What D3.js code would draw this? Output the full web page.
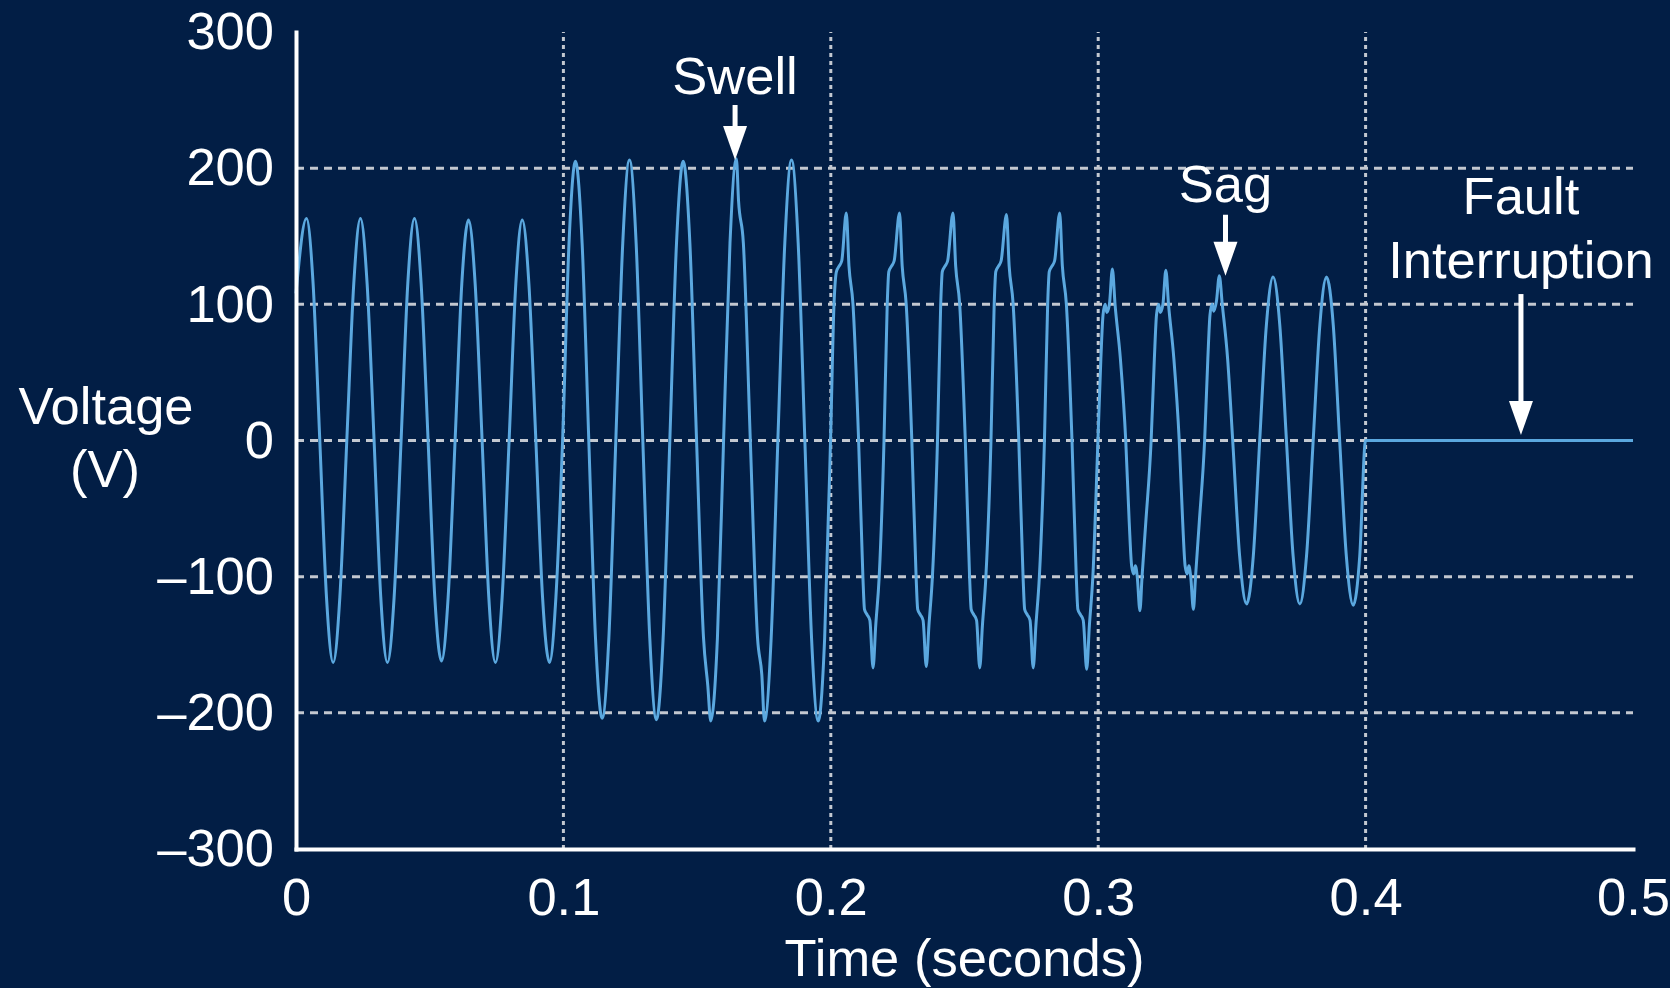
<!DOCTYPE html>
<html>
<head>
<meta charset="utf-8">
<script src="https://cdn.jsdelivr.net/npm/d3@7"></script>
<style>
  html, body { margin: 0; padding: 0; background: #021e45; }
  svg { display: block; }
</style>
</head>
<body>
<svg id="chart" width="1670" height="988"></svg>
<script>
// Recorded waveform, [time (s), voltage (V)] pairs for each disturbance interval
const normalWave = [
  [0.0000,108],[0.0039,163],[0.0064,115],[0.0089,0],[0.0114,-115],[0.0139,-163],[0.0164,-115],
  [0.0190,0],[0.0216,115],[0.0241,163],[0.0266,115],[0.0292,0],[0.0317,-115],[0.0342,-163],[0.0367,-115],
  [0.0393,0],[0.0418,115],[0.0443,163],[0.0468,115],[0.0494,0],[0.0519,-115],[0.0544,-162],[0.0569,-115],
  [0.0595,0],[0.0620,115],[0.0645,162],[0.0670,115],[0.0696,0],[0.0721,-115],[0.0746,-163],[0.0771,-115],
  [0.0797,0],[0.0822,115],[0.0846,162],[0.0871,115],[0.0897,0],[0.0922,-115],[0.0948,-163],[0.0972,-115]
];

const swellWave = [
  [0.0997,0],[0.1021,145],[0.1045,205],[0.1070,145],[0.1095,0],[0.1120,-145],[0.1145,-204],[0.1170,-145],
  [0.1196,0],[0.1222,145],[0.1247,206],[0.1272,145],[0.1297,0],[0.1323,-145],[0.1348,-205],[0.1373,-145],
  [0.1398,0],[0.1423,145],[0.1448,205],[0.1473,145],[0.1498,0],[0.1524,-145],[0.1540,-180],[0.1551,-206],[0.1576,-145],
  [0.1599,0],[0.1623,145],[0.1647,207],[0.1655,176],[0.1673,145],[0.1699,0],[0.1726,-145],[0.1742,-172],[0.1752,-206],[0.1777,-145],
  [0.1802,0],[0.1828,145],[0.1853,206],[0.1878,145],[0.1903,0],[0.1928,-145],[0.1953,-206],[0.1977,-145]
];

const harmonicWave = [
  [0.1999,0],[0.2012,100],[0.2021,124],[0.2031,128],[0.2041,132],[0.2058,167],
  [0.2068,128],[0.2083,100],[0.2104,0],[0.2120,-100],[0.2126,-124],[0.2136,-128],[0.2146,-132],[0.2158,-167],[0.2168,-136],[0.2181,-100],
  [0.2199,0],[0.2211,100],[0.2217,124],[0.2227,128],[0.2237,132],[0.2257,167],
  [0.2267,128],[0.2282,100],[0.2303,0],[0.2319,-100],[0.2325,-124],[0.2335,-128],[0.2345,-132],[0.2357,-166],[0.2367,-136],[0.2380,-100],
  [0.2399,0],[0.2411,100],[0.2417,124],[0.2427,128],[0.2437,132],[0.2457,167],
  [0.2467,128],[0.2482,100],[0.2503,0],[0.2519,-100],[0.2525,-124],[0.2535,-128],[0.2545,-132],[0.2557,-167],[0.2567,-136],[0.2580,-100],
  [0.2599,0],[0.2611,100],[0.2617,124],[0.2627,128],[0.2637,132],[0.2657,166],
  [0.2667,128],[0.2682,100],[0.2703,0],[0.2719,-100],[0.2725,-124],[0.2735,-128],[0.2745,-132],[0.2757,-167],[0.2767,-136],[0.2780,-100],
  [0.2799,0],[0.2811,100],[0.2817,124],[0.2827,128],[0.2837,132],[0.2856,167],
  [0.2866,128],[0.2881,100],[0.2902,0],[0.2918,-100],[0.2924,-124],[0.2934,-128],[0.2944,-132],[0.2957,-168],[0.2967,-136],[0.2980,-100]
];

const sagWave = [
  [0.2999,0],[0.3010,60],[0.3018,92],[0.3026,100],[0.3032,94],[0.3042,100],[0.3053,126],
  [0.3063,100],[0.3083,60],[0.3103,0],[0.3116,-60],[0.3125,-92],[0.3133,-98],[0.3139,-92],[0.3146,-100],[0.3156,-125],
  [0.3164,-100],[0.3178,-60],[0.3198,0],[0.3210,60],[0.3218,92],[0.3226,100],[0.3232,94],[0.3242,100],[0.3253,125],
  [0.3263,100],[0.3283,60],[0.3303,0],[0.3316,-60],[0.3325,-92],[0.3333,-98],[0.3339,-92],[0.3346,-100],[0.3356,-124],
  [0.3364,-100],[0.3378,-60],[0.3398,0],[0.3410,60],[0.3418,92],[0.3426,100],[0.3432,95],[0.3442,102],[0.3453,121],
  [0.3464,100],[0.3484,60],[0.3503,0],[0.3529,-85],[0.3555,-120],[0.3580,-85],
  [0.3604,0],[0.3629,85],[0.3654,120],[0.3679,85],[0.3704,0],[0.3729,-85],[0.3754,-120],[0.3779,-85],
  [0.3804,0],[0.3829,85],[0.3854,120],[0.3879,85],[0.3903,0],[0.3928,-85],[0.3954,-121],[0.3978,-85]
];

const interruptionWave = [[0.4000,0],[0.5000,0]];

// Axis ticks and labels
const timeTicks = [0, 0.1, 0.2, 0.3, 0.4, 0.5];
const timeTickLabels = ["0", "0.1", "0.2", "0.3", "0.4", "0.5"];
const voltTicks = [-300, -200, -100, 0, 100, 200, 300];
const voltTickLabels = ["\u2013300", "\u2013200", "\u2013100", "0", "100", "200", "300"];
const timeGrid = [0.1, 0.2, 0.3, 0.4];
const voltGrid = [-200, -100, 0, 100, 200];

// Event call-outs: label lines, and the point on the trace the arrow points at
const annotations = [
  { lines: ["Swell"], t: 0.1642, v: 206, len: 55, gap: 11 },
  { lines: ["Sag"], t: 0.3476, v: 121, len: 61, gap: 13 },
  { lines: ["Fault", "Interruption"], t: 0.4581, v: 4, len: 141, gap: 16 }
];

const W = 1670, H = 988;
const FONT = "'Liberation Sans', Arial, Helvetica, sans-serif";
const FONT_SIZE = 52.5;
const BG = "#021e45";
const TRACE = "#5ba8df";
const GRID = "#c3c8d0";

const svg = d3.select("#chart");
svg.append("rect").attr("width", W).attr("height", H).attr("fill", BG);

const x = d3.scaleLinear().domain([0, 0.5]).range([296, 1633]);
const y = d3.scaleLinear().domain([-300, 300]).range([849, 32]);

// Grid
const grid = svg.append("g");
grid.selectAll("line.h").data(voltGrid).join("line")
  .attr("class", "h")
  .attr("x1", x(0)).attr("x2", x(0.5))
  .attr("y1", d => y(d)).attr("y2", d => y(d))
  .attr("stroke", GRID).attr("stroke-width", 3)
  .attr("stroke-dasharray", "8,6");
grid.selectAll("line.v").data(timeGrid).join("line")
  .attr("class", "v")
  .attr("x1", d => x(d)).attr("x2", d => x(d))
  .attr("y1", y(-300)).attr("y2", y(300))
  .attr("stroke", GRID).attr("stroke-width", 3)
  .attr("stroke-dasharray", "4,4");

// Voltage trace
const trace = [].concat(normalWave, swellWave, harmonicWave, sagWave, interruptionWave);
const line = d3.line()
  .x(d => x(d[0]))
  .y(d => y(d[1]))
  .curve(d3.curveMonotoneX);
svg.append("path")
  .datum(trace)
  .attr("d", line)
  .attr("fill", "none")
  .attr("stroke", TRACE)
  .attr("stroke-width", 3)
  .attr("stroke-linejoin", "round");

// Axes
const xAxis = d3.axisBottom(x)
  .tickValues(timeTicks)
  .tickFormat((d, i) => timeTickLabels[i])
  .tickSize(0)
  .tickPadding(29);
const yAxis = d3.axisLeft(y)
  .tickValues(voltTicks)
  .tickFormat((d, i) => voltTickLabels[i])
  .tickSize(0)
  .tickPadding(22);

const gx = svg.append("g").attr("transform", `translate(0,${y(-300)})`).call(xAxis);
const gy = svg.append("g").attr("transform", `translate(${x(0)},0)`).call(yAxis);
[gx, gy].forEach(g => {
  g.attr("font-family", FONT).attr("font-size", FONT_SIZE);
  g.select(".domain").attr("stroke", "#ffffff").attr("stroke-width", 4).attr("stroke-linecap", "square");
  g.selectAll("text").attr("fill", "#ffffff");
});

// Axis titles
svg.append("text")
  .attr("x", (x(0) + x(0.5)) / 2).attr("y", 976)
  .attr("text-anchor", "middle")
  .attr("font-family", FONT).attr("font-size", FONT_SIZE).attr("fill", "#ffffff")
  .text("Time (seconds)");
const yTitle = svg.append("text")
  .attr("text-anchor", "middle")
  .attr("font-family", FONT).attr("font-size", FONT_SIZE).attr("fill", "#ffffff");
yTitle.append("tspan").attr("x", 106).attr("y", 424).text("Voltage");
yTitle.append("tspan").attr("x", 105).attr("y", 487).text("(V)");

// Call-outs with arrows
const ARROW_HEAD_LEN = 34, ARROW_HEAD_W = 24, LINE_H = 64;
annotations.forEach(a => {
  const ax = x(a.t);
  const tipY = y(a.v);
  const topY = tipY - a.len;
  const g = svg.append("g");
  g.append("line")
    .attr("x1", ax).attr("x2", ax)
    .attr("y1", topY).attr("y2", tipY - ARROW_HEAD_LEN + 2)
    .attr("stroke", "#ffffff").attr("stroke-width", 5);
  g.append("path")
    .attr("d", `M${ax - ARROW_HEAD_W / 2},${tipY - ARROW_HEAD_LEN} L${ax + ARROW_HEAD_W / 2},${tipY - ARROW_HEAD_LEN} L${ax},${tipY} Z`)
    .attr("fill", "#ffffff");
  const n = a.lines.length;
  a.lines.forEach((txt, i) => {
    g.append("text")
      .attr("x", ax)
      .attr("y", topY - a.gap - (n - 1 - i) * LINE_H)
      .attr("text-anchor", "middle")
      .attr("font-family", FONT).attr("font-size", FONT_SIZE).attr("fill", "#ffffff")
      .text(txt);
  });
});
</script>
</body>
</html>
